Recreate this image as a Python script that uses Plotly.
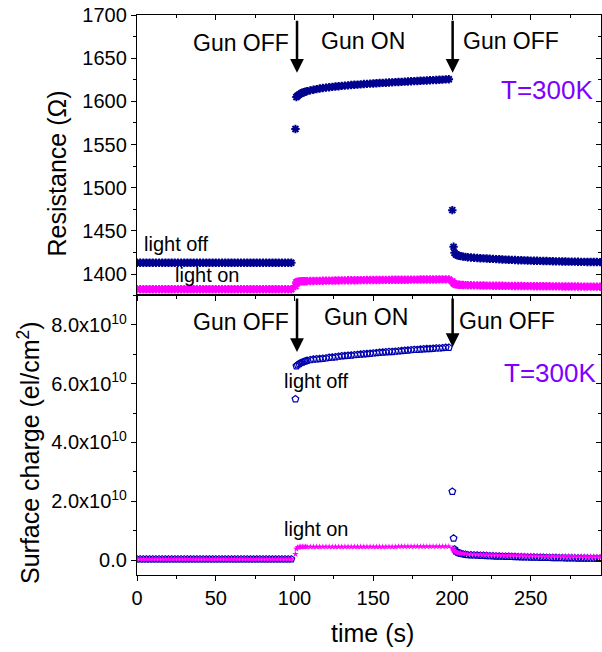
import plotly.graph_objects as go

# ---------------- data ----------------
time_s = [0, 2, 4, 6, 8, 10, 12, 14, 16, 18,
          20, 22, 24, 26, 28, 30, 32, 34, 36, 38,
          40, 42, 44, 46, 48, 50, 52, 54, 56, 58,
          60, 62, 64, 66, 68, 70, 72, 74, 76, 78,
          80, 82, 84, 86, 88, 90, 92, 94, 96, 98,
          100.6, 101.2, 102, 103, 104, 105, 106, 107, 108, 110, 112, 114,
          116, 118, 120, 122, 124, 126, 128, 130, 132, 134,
          136, 138, 140, 142, 144, 146, 148, 150, 152, 154,
          156, 158, 160, 162, 164, 166, 168, 170, 172, 174,
          176, 178, 180, 182, 184, 186, 188, 190, 192, 194,
          196, 198,
          200.2, 201, 201.6, 202.5, 203.5, 204.5, 205.5, 207, 208.5, 210,
          212, 214, 216, 218, 220, 222, 224, 226, 228, 230,
          232, 234, 236, 238, 240, 242, 244, 246, 248, 250,
          252, 254, 256, 258, 260, 262, 264, 266, 268, 270,
          272, 274, 276, 278, 280, 282, 284, 286, 288, 290,
          292, 294]

res_light_off = [1413, 1413, 1413, 1413, 1413, 1413, 1413, 1413, 1413, 1413,
                 1413, 1413, 1413, 1413, 1413, 1413, 1413, 1413, 1413, 1413,
                 1413, 1413, 1413, 1413, 1413, 1413, 1413, 1413, 1413, 1413,
                 1413, 1413, 1413, 1413, 1413, 1413, 1413, 1413, 1413, 1413,
                 1413, 1413, 1413, 1413, 1413, 1413, 1413, 1413, 1413, 1413,
                 1568, 1605, 1606.5, 1607.8, 1609, 1609.9, 1610.6, 1611.2, 1611.8, 1612.7, 1613.5, 1614.1,
                 1614.9, 1615.4, 1615.9, 1616.3, 1616.8, 1617.2, 1617.5, 1617.9, 1618.2, 1618.5,
                 1618.9, 1619.2, 1619.4, 1619.7, 1620.0, 1620.2, 1620.5, 1620.7, 1620.9, 1621.2,
                 1621.4, 1621.6, 1621.8, 1622.0, 1622.2, 1622.4, 1622.6, 1622.8, 1623.0, 1623.2,
                 1623.4, 1623.6, 1623.8, 1624.0, 1624.2, 1624.4, 1624.6, 1624.8, 1625.0, 1625.2,
                 1625.4, 1625.6,
                 1474, 1431.5, 1424.5, 1422.5, 1421.6, 1421.1, 1420.7, 1420.2, 1419.8, 1419.5,
                 1419.1, 1418.9, 1418.6, 1418.3, 1418.1, 1417.9, 1417.7, 1417.5, 1417.3, 1417.1,
                 1416.9, 1416.7, 1416.5, 1416.4, 1416.2, 1416.0, 1415.9, 1415.8, 1415.6, 1415.5,
                 1415.4, 1415.3, 1415.2, 1415.1, 1415.0, 1414.9, 1414.8, 1414.7, 1414.6, 1414.5,
                 1414.5, 1414.4, 1414.3, 1414.3, 1414.2, 1414.1, 1414.1, 1414.0, 1414.0, 1413.9,
                 1413.9, 1413.8]

res_light_on = [1382.3, 1382.3, 1382.3, 1382.3, 1382.3, 1382.3, 1382.3, 1382.3, 1382.3, 1382.3,
                1382.3, 1382.3, 1382.3, 1382.3, 1382.3, 1382.3, 1382.3, 1382.3, 1382.3, 1382.3,
                1382.3, 1382.3, 1382.3, 1382.3, 1382.3, 1382.3, 1382.3, 1382.3, 1382.3, 1382.3,
                1382.3, 1382.3, 1382.3, 1382.3, 1382.3, 1382.3, 1382.3, 1382.3, 1382.3, 1382.3,
                1382.3, 1382.3, 1382.3, 1382.3, 1382.3, 1382.3, 1382.3, 1382.3, 1382.3, 1382.3,
                1386, 1390.5, 1391.2, 1391.4, 1391.5, 1391.6, 1391.7, 1391.7, 1391.8, 1391.9, 1392.0, 1392.1,
                1392.1, 1392.2, 1392.3, 1392.3, 1392.4, 1392.5, 1392.5, 1392.6, 1392.6, 1392.7,
                1392.7, 1392.8, 1392.8, 1392.9, 1392.9, 1393.0, 1393.0, 1393.0, 1393.1, 1393.1,
                1393.2, 1393.2, 1393.2, 1393.3, 1393.3, 1393.3, 1393.4, 1393.4, 1393.4, 1393.5,
                1393.5, 1393.5, 1393.6, 1393.6, 1393.6, 1393.7, 1393.7, 1393.7, 1393.8, 1393.8,
                1393.8, 1393.8,
                1391.5, 1389.5, 1388.5, 1388.0, 1387.7, 1387.5, 1387.4, 1387.2, 1387.1, 1387.0,
                1386.95, 1386.9, 1386.8, 1386.75, 1386.7, 1386.6, 1386.55, 1386.5, 1386.45, 1386.4,
                1386.35, 1386.3, 1386.25, 1386.2, 1386.15, 1386.1, 1386.05, 1386.0, 1386.0, 1385.95,
                1385.9, 1385.9, 1385.85, 1385.8, 1385.8, 1385.75, 1385.7, 1385.7, 1385.65, 1385.6,
                1385.6, 1385.55, 1385.55, 1385.5, 1385.5, 1385.45, 1385.45, 1385.4, 1385.4, 1385.35,
                1385.35, 1385.3]

# surface charge in units of 1e10 el/cm^2
charge_light_off_e10 = [0.03, 0.03, 0.03, 0.03, 0.03, 0.03, 0.03, 0.03, 0.03, 0.03,
                        0.03, 0.03, 0.03, 0.03, 0.03, 0.03, 0.03, 0.03, 0.03, 0.03,
                        0.03, 0.03, 0.03, 0.03, 0.03, 0.03, 0.03, 0.03, 0.03, 0.03,
                        0.03, 0.03, 0.03, 0.03, 0.03, 0.03, 0.03, 0.03, 0.03, 0.03,
                        0.03, 0.03, 0.03, 0.03, 0.03, 0.03, 0.03, 0.03, 0.03, 0.03,
                        5.48, 6.60, 6.64, 6.68, 6.71, 6.73, 6.75, 6.77, 6.79, 6.81, 6.83, 6.84,
                        6.85, 6.86, 6.87, 6.89, 6.90, 6.91, 6.93, 6.94, 6.95, 6.96,
                        6.97, 6.98, 6.99, 7.00, 7.01, 7.02, 7.03, 7.04, 7.05, 7.06,
                        7.07, 7.08, 7.09, 7.09, 7.10, 7.11, 7.12, 7.13, 7.14, 7.15,
                        7.16, 7.16, 7.17, 7.18, 7.19, 7.19, 7.20, 7.21, 7.21, 7.22,
                        7.23, 7.23,
                        2.33, 0.74, 0.37, 0.30, 0.26, 0.24, 0.22, 0.20, 0.185, 0.175,
                        0.17, 0.165, 0.16, 0.155, 0.15, 0.145, 0.14, 0.135, 0.13, 0.127,
                        0.124, 0.12, 0.117, 0.114, 0.11, 0.107, 0.104, 0.10, 0.097, 0.094,
                        0.091, 0.088, 0.085, 0.083, 0.081, 0.079, 0.077, 0.075, 0.073, 0.071,
                        0.069, 0.067, 0.065, 0.063, 0.061, 0.06, 0.058, 0.057, 0.055, 0.054,
                        0.052, 0.05]

charge_light_on_e10 = [0.03, 0.03, 0.03, 0.03, 0.03, 0.03, 0.03, 0.03, 0.03, 0.03,
                       0.03, 0.03, 0.03, 0.03, 0.03, 0.03, 0.03, 0.03, 0.03, 0.03,
                       0.03, 0.03, 0.03, 0.03, 0.03, 0.03, 0.03, 0.03, 0.03, 0.03,
                       0.03, 0.03, 0.03, 0.03, 0.03, 0.03, 0.03, 0.03, 0.03, 0.03,
                       0.03, 0.03, 0.03, 0.03, 0.03, 0.03, 0.03, 0.03, 0.03, 0.03,
                       0.20, 0.38, 0.43, 0.44, 0.45, 0.45, 0.45, 0.45, 0.45, 0.45, 0.45, 0.45,
                       0.45, 0.45, 0.45, 0.45, 0.45, 0.45, 0.45, 0.45, 0.45, 0.45,
                       0.45, 0.45, 0.45, 0.45, 0.45, 0.45, 0.45, 0.45, 0.45, 0.45,
                       0.45, 0.45, 0.45, 0.45, 0.45, 0.46, 0.46, 0.46, 0.46, 0.46,
                       0.46, 0.46, 0.46, 0.46, 0.46, 0.46, 0.46, 0.46, 0.46, 0.46,
                       0.46, 0.46,
                       0.40, 0.33, 0.30, 0.27, 0.25, 0.24, 0.235, 0.225, 0.215, 0.205,
                       0.20, 0.197, 0.193, 0.19, 0.187, 0.183, 0.18, 0.177, 0.173, 0.17,
                       0.167, 0.164, 0.161, 0.158, 0.155, 0.152, 0.15, 0.148, 0.146, 0.144,
                       0.142, 0.14, 0.138, 0.136, 0.134, 0.132, 0.13, 0.128, 0.127, 0.126,
                       0.125, 0.124, 0.123, 0.122, 0.121, 0.12, 0.119, 0.118, 0.117, 0.116,
                       0.115, 0.114]

charge_tick_vals_e10 = [0, 2, 4, 6, 8]
charge_tick_text = ["0.0", "2.0x10<sup>10</sup>", "4.0x10<sup>10</sup>",
                    "6.0x10<sup>10</sup>", "8.0x10<sup>10</sup>"]

# ---------------- styling ----------------
FONT = "Liberation Sans"
BLUE_TOP = "#000090"
BLUE_BOT = "#0000B0"
MAGENTA = "#FF00FF"
VIOLET = "#8000FF"
X_RANGE = [0, 294.6]
RES_RANGE = [1375.7, 1700]
CH_RANGE = [-0.51e10, 9.02e10]

E10 = 1e10
charge_off = [v * E10 for v in charge_light_off_e10]
charge_on = [v * E10 for v in charge_light_on_e10]

fig = go.Figure()

# bottom panel
fig.add_trace(go.Scatter(x=time_s, y=charge_off, xaxis="x", yaxis="y", mode="markers",
                         marker=dict(symbol="pentagon-open", size=7, color=BLUE_BOT,
                                     line=dict(color=BLUE_BOT, width=1.2))))
fig.add_trace(go.Scatter(x=time_s, y=charge_on, xaxis="x", yaxis="y", mode="markers",
                         marker=dict(symbol="star", size=5, color=MAGENTA,
                                     line=dict(width=0))))
# top panel
fig.add_trace(go.Scatter(x=time_s, y=res_light_off, xaxis="x2", yaxis="y2", mode="markers",
                         marker=dict(symbol="asterisk-open", size=7, color=BLUE_TOP,
                                     line=dict(color=BLUE_TOP, width=2))))
fig.add_trace(go.Scatter(x=time_s, y=res_light_on, xaxis="x2", yaxis="y2", mode="markers",
                         marker=dict(symbol="asterisk-open", size=7, color=MAGENTA,
                                     line=dict(color=MAGENTA, width=2))))

tickfont = dict(family=FONT, size=20, color="black")
common = dict(showgrid=False, zeroline=False, showline=True, linecolor="black", linewidth=1.3,
              tickcolor="black", tickwidth=1.3, ticklen=5, tickfont=tickfont)


def minor(dtick, tick0, ticks):
    return dict(dtick=dtick, tick0=tick0, ticks=ticks, ticklen=3, tickwidth=1.2, tickcolor="black",
                showgrid=False)


fig.update_layout(
    width=602, height=652,
    margin=dict(l=137, r=1, t=15, b=77),
    paper_bgcolor="white", plot_bgcolor="white",
    showlegend=False,
    xaxis=dict(domain=[0, 1], anchor="y", range=X_RANGE, ticks="outside", tick0=0, dtick=50,
               minor=minor(25, 0, "outside"), **common),
    yaxis=dict(domain=[0, 0.5], anchor="x", range=CH_RANGE, ticks="outside",
               tickmode="array", tickvals=[v * E10 for v in charge_tick_vals_e10],
               ticktext=charge_tick_text, minor=minor(E10, 0, "outside"), **common),
    xaxis2=dict(domain=[0, 1], anchor="y2", range=X_RANGE, ticks="outside", tick0=0, dtick=50,
                showticklabels=False, minor=minor(25, 0, "outside"), **common),
    yaxis2=dict(domain=[0.5, 1], anchor="x2", range=RES_RANGE, ticks="outside", tick0=1400,
                dtick=50, minor=minor(25, 1400, "outside"), **common),
    # mirrored axes with inward ticks
    xaxis3=dict(overlaying="x", anchor="y", side="top", range=X_RANGE, ticks="inside", tick0=0,
                dtick=50, showticklabels=False, minor=minor(25, 0, "inside"), **common),
    yaxis3=dict(overlaying="y", anchor="x", side="right", range=CH_RANGE, ticks="inside",
                tick0=0, dtick=2 * E10, showticklabels=False, minor=minor(E10, 0, "inside"), **common),
    xaxis4=dict(overlaying="x2", anchor="y2", side="top", range=X_RANGE, ticks="inside", tick0=0,
                dtick=50, showticklabels=False, minor=minor(25, 0, "inside"), **common),
    yaxis4=dict(overlaying="y2", anchor="x2", side="right", range=RES_RANGE, ticks="inside",
                tick0=1400, dtick=50, showticklabels=False, minor=minor(25, 1400, "inside"), **common),
)

# invisible traces so the mirror axes are drawn
fig.add_trace(go.Scatter(x=[None], y=[None], xaxis="x3", yaxis="y3", mode="markers", hoverinfo="skip"))
fig.add_trace(go.Scatter(x=[None], y=[None], xaxis="x4", yaxis="y4", mode="markers", hoverinfo="skip"))

ann = []


def txt(text, x, y, xref, yref, size, color="black", xanchor="center", angle=0):
    ann.append(dict(text=text, x=x, y=y, xref=xref, yref=yref, showarrow=False,
                    xanchor=xanchor, yanchor="middle", textangle=angle,
                    font=dict(family=FONT, size=size, color=color)))


def arrow(x, y_head, y_tail, xref, yref):
    ann.append(dict(text="", x=x, y=y_head, ax=x, ay=y_tail, xref=xref, yref=yref,
                    axref=xref, ayref=yref, showarrow=True, arrowhead=2, arrowsize=1.1,
                    arrowwidth=2.5, arrowcolor="black"))


# top panel texts
txt("Gun OFF", 66, 1667.6, "x2", "y2", 23)
txt("Gun ON", 143.2, 1670, "x2", "y2", 23)
txt("Gun OFF", 237.5, 1670, "x2", "y2", 23)
txt("T=300K", 290.8, 1613, "x2", "y2", 26, VIOLET, xanchor="right")
txt("light off", 24.8, 1435, "x2", "y2", 20)
txt("light on", 44.8, 1399, "x2", "y2", 20)
arrow(101.6, 1633, 1695, "x2", "y2")
arrow(200.4, 1633, 1695, "x2", "y2")

# bottom panel texts
txt("Gun OFF", 66, 8.10 * E10, "x", "y", 23)
txt("Gun ON", 145.7, 8.26 * E10, "x", "y", 23)
txt("Gun OFF", 235.2, 8.14 * E10, "x", "y", 23)
txt("T=300K", 292.7, 6.37 * E10, "x", "y", 26, VIOLET, xanchor="right")
txt("light off", 113.7, 6.09 * E10, "x", "y", 20)
txt("light on", 114, 1.06 * E10, "x", "y", 20)
arrow(101.6, 7.08 * E10, 8.95 * E10, "x", "y")
arrow(200.4, 7.25 * E10, 8.95 * E10, "x", "y")

# axis titles
txt("Resistance (Ω)", -0.1724, 0.717, "paper", "paper", 25, angle=-90)
txt("Surface charge (el/cm<sup>2</sup>)", -0.2328, 0.2196, "paper", "paper", 25, angle=-90)
txt("time (s)", 0.5086, -0.1036, "paper", "paper", 25)

fig.update_layout(annotations=ann)

fig.write_html("out.html")
